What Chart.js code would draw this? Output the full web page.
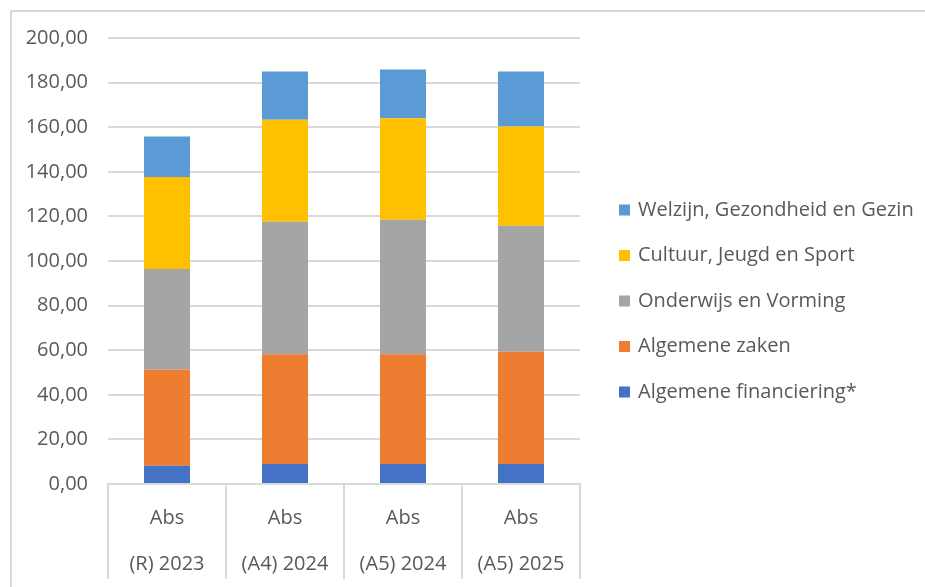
<!DOCTYPE html>
<html lang="nl">
<head>
    <meta charset="UTF-8" />
    <title>Stacked bars</title>
    <script src="https://cdn.jsdelivr.net/npm/chart.js"></script>
    <style>
        html, body { margin: 0; padding: 0; background: #fff; }
        #wrap { position: relative; width: 925px; height: 587px; }
    </style>
</head>
<body>
    <div id="wrap"><canvas id="chart"></canvas></div>

    <script>
        // categories (two-line labels)
        const categories = [
            ['Abs', '(R) 2023'],
            ['Abs', '(A4) 2024'],
            ['Abs', '(A5) 2024'],
            ['Abs', '(A5) 2025']
        ];

        // series values, bottom to top
        const algemeneFinanciering = [8.2, 9.0, 9.0, 9.0];
        const algemeneZaken = [43.0, 49.2, 49.2, 50.3];
        const onderwijsVorming = [45.2, 59.4, 60.3, 56.5];
        const cultuurJeugdSport = [41.3, 45.7, 45.5, 44.5];
        const welzijnGezin = [18.1, 21.7, 21.9, 24.7];

        const yTicks = [0, 20, 40, 60, 80, 100, 120, 140, 160, 180, 200];

        const fontFamily = "'Open Sans', sans-serif";
        const textColor = '#595959';
        const lineColor = '#d9d9d9';

        // outer frame + legend on the right
        const framePlugin = {
            id: 'frame',
            beforeDraw(chart) {
                const c = chart.ctx;
                c.save();
                c.strokeStyle = lineColor;
                c.lineWidth = 2;
                c.beginPath();
                c.moveTo(11, chart.height);
                c.lineTo(11, 11);
                c.lineTo(chart.width, 11);
                c.stroke();
                c.restore();
            },
            afterDraw(chart) {
                const c = chart.ctx;
                const area = chart.chartArea;
                const sets = chart.data.datasets.slice().reverse();
                const rowGap = 45.5;
                const midY = (area.top + area.bottom) / 2 + 40;
                const startY = midY - rowGap * (sets.length - 1) / 2;
                const boxX = area.right + 39;
                c.save();
                c.font = '20px ' + fontFamily;
                c.textBaseline = 'middle';
                sets.forEach((ds, i) => {
                    const y = startY + i * rowGap;
                    c.fillStyle = ds.backgroundColor;
                    c.fillRect(boxX, y - 5.5, 11, 11);
                    c.fillStyle = textColor;
                    c.fillText(ds.label, boxX + 19, y);
                });
                c.restore();
            }
        };

        const ctx = document.getElementById('chart').getContext('2d');
        new Chart(ctx, {
            type: 'bar',
            data: {
                labels: categories,
                datasets: [
                    { label: 'Algemene financiering*', data: algemeneFinanciering, backgroundColor: '#4472C4' },
                    { label: 'Algemene zaken', data: algemeneZaken, backgroundColor: '#ED7D31' },
                    { label: 'Onderwijs en Vorming', data: onderwijsVorming, backgroundColor: '#A5A5A5' },
                    { label: 'Cultuur, Jeugd en Sport', data: cultuurJeugdSport, backgroundColor: '#FFC000' },
                    { label: 'Welzijn, Gezondheid en Gezin', data: welzijnGezin, backgroundColor: '#5B9BD5' }
                ]
            },
            options: {
                responsive: true,
                maintainAspectRatio: false,
                animation: false,
                categoryPercentage: 1,
                barPercentage: 0.39,
                layout: { padding: { left: 0, top: 38, right: 345, bottom: 0 } },
                plugins: {
                    legend: { display: false },
                    tooltip: { enabled: false }
                },
                scales: {
                    x: {
                        stacked: true,
                        afterFit: s => { s.height = 103; },
                        border: { color: lineColor, width: 2 },
                        grid: {
                            offset: true,
                            drawOnChartArea: false,
                            drawTicks: true,
                            tickLength: 95,
                            color: lineColor,
                            lineWidth: 2
                        },
                        ticks: {
                            padding: -84,
                            color: textColor,
                            font: { family: fontFamily, size: 20, lineHeight: 46 / 20 }
                        }
                    },
                    y: {
                        stacked: true,
                        min: 0,
                        max: 200,
                        afterFit: s => { s.width = 108; },
                        afterBuildTicks: s => { s.ticks = yTicks.map(v => ({ value: v })); },
                        border: { display: false },
                        grid: { color: lineColor, lineWidth: 2, drawTicks: false },
                        ticks: {
                            padding: 20,
                            color: textColor,
                            font: { family: fontFamily, size: 20 },
                            callback: v => v.toFixed(2).replace('.', ',')
                        }
                    }
                }
            },
            plugins: [framePlugin]
        });
    </script>
</body>
</html>
